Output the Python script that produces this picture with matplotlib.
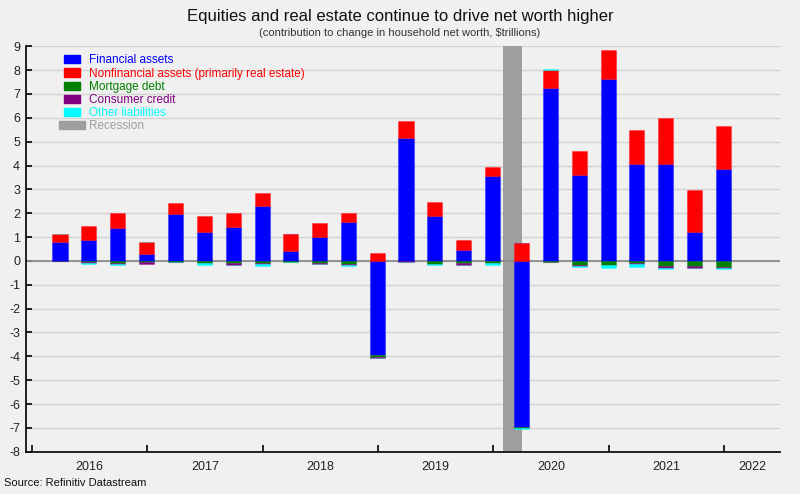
import matplotlib
matplotlib.use("Agg")
import matplotlib.pyplot as plt
import matplotlib.dates as mdates
from matplotlib.patches import Patch, Rectangle
from matplotlib.legend_handler import HandlerPatch
from matplotlib.colors import to_rgba
import numpy as np
import pandas as pd

plt.rcParams['font.family'] = ['Liberation Sans', 'DejaVu Sans']
plt.rcParams['axes.unicode_minus'] = False

# Quarterly contributions to change in household net worth, $trillions
quarters = ['2016Q1', '2016Q2', '2016Q3', '2016Q4', '2017Q1', '2017Q2', '2017Q3', '2017Q4',
            '2018Q1', '2018Q2', '2018Q3', '2018Q4', '2019Q1', '2019Q2', '2019Q3', '2019Q4',
            '2020Q1', '2020Q2', '2020Q3', '2020Q4', '2021Q1', '2021Q2', '2021Q3', '2021Q4']
financial = [0.81, 0.87, 1.36, 0.28, 1.96, 1.22, 1.43, 2.29, 0.42, 1.01, 1.64, -3.94,
             5.17, 1.89, 0.46, 3.57, -6.95, 7.24, 3.61, 7.62, 4.06, 4.06, 1.20, 3.87]
nonfinancial = [0.32, 0.58, 0.67, 0.52, 0.46, 0.65, 0.60, 0.56, 0.70, 0.58, 0.37, 0.35,
                0.69, 0.57, 0.42, 0.35, 0.74, 0.75, 0.99, 1.21, 1.42, 1.94, 1.77, 1.79]
mortgage = [-0.01, -0.03, -0.08, -0.05, -0.03, -0.08, -0.10, -0.10, -0.05, -0.07, -0.11, -0.07,
            -0.02, -0.11, -0.10, -0.08, -0.05, -0.05, -0.18, -0.15, -0.10, -0.22, -0.22, -0.25]
consumer = [-0.01, -0.07, -0.06, -0.09, -0.01, -0.02, -0.07, -0.04, 0.01, -0.06, -0.08, -0.05,
            -0.01, -0.02, -0.08, -0.02, 0.01, -0.01, -0.02, -0.02, -0.02, -0.06, -0.08, -0.05]
other = [0.01, -0.01, -0.05, 0.01, -0.01, -0.07, -0.02, -0.07, -0.01, -0.01, -0.01, -0.01,
         -0.01, -0.06, -0.01, -0.06, -0.03, 0.04, -0.07, -0.13, -0.13, -0.06, -0.01, -0.05]

series = [("Financial assets", financial, "#0000ff"),
          ("Nonfinancial assets (primarily real estate)", nonfinancial, "#ff0000"),
          ("Mortgage debt", mortgage, "#008000"),
          ("Consumer credit", consumer, "#800080"),
          ("Other liabilities", other, "#00ffff")]

recession = ("2020-02-01", "2020-04-01")
rec_color = "#9e9e9e"
bg = "#f0f0f0"

# bars sit on the quarter-end date
dates = pd.PeriodIndex(quarters, freq='Q').end_time.normalize()
x = mdates.date2num(dates.to_pydatetime())
width = 48

fig = plt.figure(figsize=(8, 4.94), dpi=100, facecolor=bg)
ax = fig.add_axes([0.032, 0.0856, 0.943, 0.8207], facecolor=bg)

ax.axvspan(mdates.datestr2num(recession[0]), mdates.datestr2num(recession[1]),
           color=rec_color, zorder=1, lw=0)

pos_bottom = np.zeros(len(x))
neg_bottom = np.zeros(len(x))
for label, vals, color in series:
    vals = np.array(vals)
    bottom = np.where(vals >= 0, pos_bottom, neg_bottom)
    ax.bar(x, vals, width=width, bottom=bottom, color=color,
           edgecolor=to_rgba(color, 0.3), linewidth=0.8, zorder=3)
    pos_bottom += np.where(vals >= 0, vals, 0)
    neg_bottom += np.where(vals < 0, vals, 0)

ax.axhline(0, color="#8c8c8c", lw=1.3, zorder=2)

# axes setup
xmin = mdates.datestr2num("2015-12-13")
xmax = mdates.datestr2num("2022-06-27")
ax.set_xlim(xmin, xmax)
ax.set_ylim(-8, 9)
ax.set_yticks(range(-8, 10))
ax.yaxis.grid(True, color="#d2d2d2", lw=1)
ax.set_axisbelow(True)

ax.xaxis.set_major_locator(mdates.YearLocator())
ax.xaxis.set_major_formatter(plt.NullFormatter())
years = range(2016, 2023)
mids = []
for yr in years:
    a = max(mdates.datestr2num(f"{yr}-01-01"), xmin)
    b = min(mdates.datestr2num(f"{yr + 1}-01-01"), xmax)
    mids.append((a + b) / 2)
ax.xaxis.set_minor_locator(plt.FixedLocator(mids))
ax.xaxis.set_minor_formatter(plt.FixedFormatter([str(y) for y in years]))
ax.tick_params(axis='x', which='major', direction='in', length=5, width=1.2)
ax.tick_params(axis='x', which='minor', length=0, pad=7, labelsize=9, labelcolor="#222222")
ax.tick_params(axis='y', direction='in', length=4, width=1.2, labelsize=9,
               labelcolor="#222222", pad=4)

for s in ["top", "right"]:
    ax.spines[s].set_visible(False)
for s in ["left", "bottom"]:
    ax.spines[s].set_linewidth(1.3)
    ax.spines[s].set_color("#111111")


def wide_patch(legend, orig_handle, xdescent, ydescent, width, height, fontsize):
    # recession key is drawn wider than the series keys
    return Rectangle((-xdescent - 3.6, -ydescent), width + 7.2, height)


handles = [Patch(color=c) for _, _, c in series]
rec_handle = Patch(color=rec_color)
handles.append(rec_handle)
labels = [l for l, _, _ in series] + ["Recession"]
ax.legend(handles, labels, loc="upper left", bbox_to_anchor=(0.0365, 1.006),
          frameon=False, fontsize=8.5, labelspacing=0.1, handlelength=1.4,
          handleheight=0.7, handletextpad=0.75,
          labelcolor=[c for _, _, c in series] + [rec_color],
          handler_map={rec_handle: HandlerPatch(patch_func=wide_patch)})

fig.text(0.5, 1 - 17 / 494, "Equities and real estate continue to drive net worth higher",
         ha="center", va="center", fontsize=12, color="#111111")
fig.text(0.5, 1 - 33 / 494, "(contribution to change in household net worth, $trillions)",
         ha="center", va="center", fontsize=8, color="#333333")
fig.text(0.005, 1 - 483 / 494, "Source: Refinitiv Datastream",
         ha="left", va="center", fontsize=8, color="#111111")

fig.savefig("out.png", dpi=100, facecolor=bg)
